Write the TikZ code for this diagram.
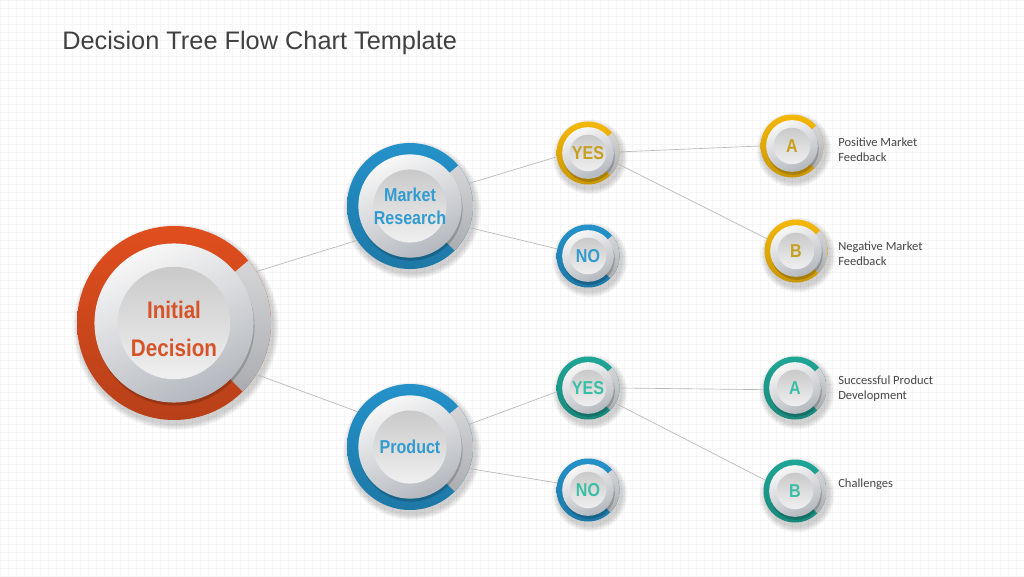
\documentclass[tikz,border=0pt]{standalone}
\usepackage{fontspec}
\usepackage{tikz}
\usetikzlibrary{calc}
\newfontfamily\titlefont{Liberation Sans}
\newfontfamily\knobfont[FakeStretch=0.86]{Liberation Sans}
\newfontfamily\notefont{Carlito}
\definecolor{initring}{RGB}{224,78,30}
\definecolor{inittext}{RGB}{214,84,40}
\definecolor{bluering}{RGB}{36,146,202}
\definecolor{bluetext}{RGB}{50,155,207}
\definecolor{goldring}{RGB}{245,184,8}
\definecolor{goldtext}{RGB}{198,160,32}
\definecolor{tealring}{RGB}{30,166,150}
\definecolor{tealtext}{RGB}{58,190,166}
\definecolor{wedgetop}{RGB}{214,214,216}
\definecolor{wedgebot}{RGB}{170,172,176}
\definecolor{disctop}{RGB}{247,247,247}
\definecolor{discbot}{RGB}{180,184,190}
\definecolor{titlegray}{RGB}{64,64,64}
\definecolor{notegray}{RGB}{70,70,70}

\tikzset{
    knob/.style={circle, inner sep=0pt, outer sep=0pt, align=center},
    branch/.style={draw=black!28, line width=0.5pt},
    gridline/.style={draw=black!4, line width=0.4pt},
    note/.style={anchor=west, inner sep=0pt, align=left, text=notegray,
        font=\notefont\fontsize{9.4}{11.3}\selectfont},
}

% #2 name, #3 centre, #4 radius, #5 ring colour, #6 text colour, #7 text
\newcommand{\knob}[7][\knobfont\bfseries\fontsize{14}{17.3}\selectfont]{%
    \foreach \k in {0,...,5}
        \fill[black, opacity=0.03] ($(#3)+(2,-4)$) circle ({#4+6-\k});
    \shade[top color=#5, bottom color=#5!82!black] (#3) circle (#4);
    \shade[top color=wedgetop, bottom color=wedgebot] (#3) -- ++(40:#4) arc (40:-45:#4) -- cycle;
    \fill[black, opacity=0.18] ($(#3)+(1,-3)$) circle ({0.82*#4});
    \shade[top color=disctop, bottom color=discbot, shading angle=25] (#3) circle ({0.82*#4});
    \shade[top color=black!21, bottom color=black!6] (#3) circle ({0.58*#4});
    \node[knob, minimum size=#4*1.5pt, font={#1}, text=#6] (#2) at (#3) {#7};
}

\begin{document}
\begin{tikzpicture}[x=0.75pt, y=0.75pt]
    \useasboundingbox (0,0) rectangle (1024,576);
    \fill[white] (0,0) rectangle (1024,576);
    \draw[gridline] (0,0) grid[step=8] (1024,576);

    \node[anchor=base west, inner sep=0pt, text=titlegray,
        font=\titlefont\fontsize{19}{22}\selectfont] (title) at (62,526.5)
        {Decision Tree Flow Chart Template};

    \knob[\knobfont\bfseries\fontsize{18}{28}\selectfont]{init}{174,253}{97}{initring}{inittext}{\\[-6pt]Initial\\Decision}
    \knob{mr}{410,370}{63}{bluering}{bluetext}{Market\\Research}
    \knob{prod}{410,129}{63}{bluering}{bluetext}{Product}
    \knob{yesa}{588,423}{31.5}{goldring}{goldtext}{YES}
    \knob{noa}{588,320}{31.5}{bluering}{bluetext}{NO}
    \knob{yesb}{588,188}{31.5}{tealring}{tealtext}{YES}
    \knob{nob}{588,86}{31.5}{bluering}{tealtext}{NO}
    \knob{aa}{792,430}{31.5}{goldring}{goldtext}{A}
    \knob{ba}{796,325}{31.5}{goldring}{goldtext}{B}
    \knob{ab}{795,188}{31.5}{tealring}{tealtext}{A}
    \knob{bb}{795,85}{31.5}{tealring}{tealtext}{B}

    \draw[branch] (init.32) -- (mr.213);
    \draw[branch] (init.-32) -- (prod.146);
    \draw[branch] (mr.21) -- (yesa.187);
    \draw[branch] (mr.-20) -- (noa.167);
    \draw[branch] (yesa.2) -- (aa.180);
    \draw[branch] (yesa.-20) -- (ba.157);
    \draw[branch] (prod.21) -- (yesb.187);
    \draw[branch] (prod.-20) -- (nob.167);
    \draw[branch] (yesb.0) -- (ab.183);
    \draw[branch] (yesb.-29) -- (bb.160);

    \node[note] (pos) at (838,426.5) {Positive Market\\Feedback};
    \node[note] (neg) at (838,322) {Negative Market\\Feedback};
    \node[note] (succ) at (838,187) {Successful Product\\Development};
    \node[note] (chal) at (838,92) {Challenges};
\end{tikzpicture}
\end{document}
